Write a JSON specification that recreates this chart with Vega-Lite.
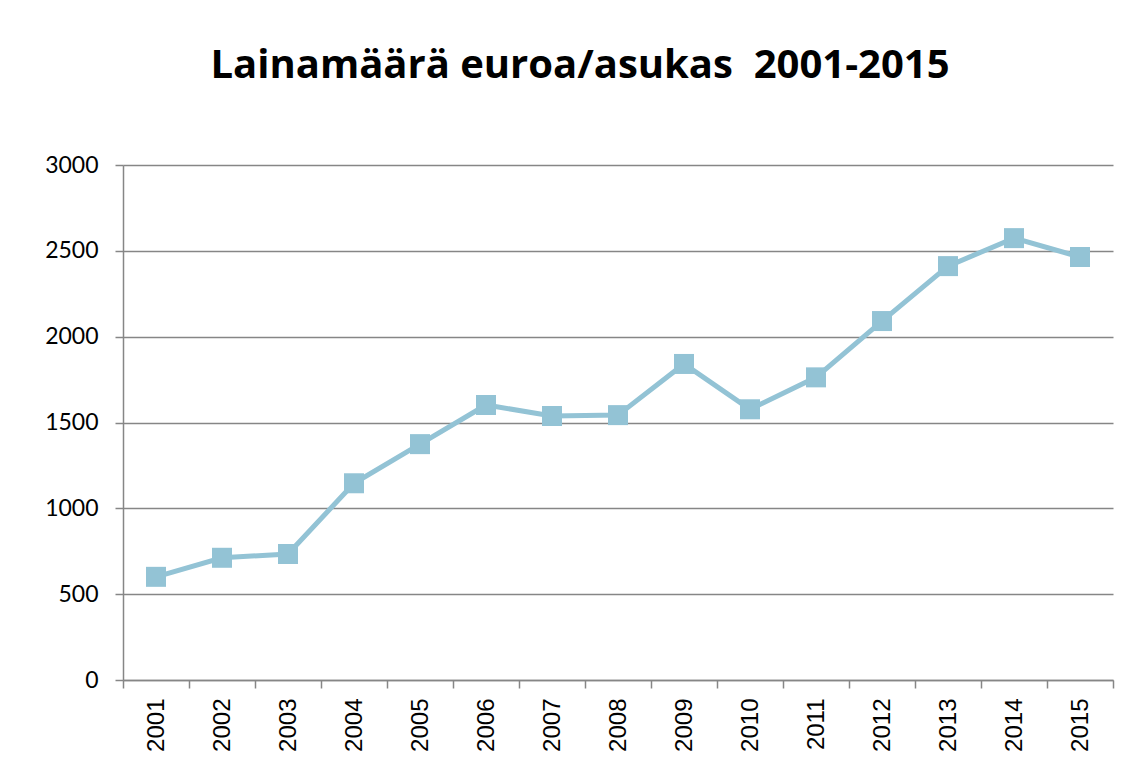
{
  "$schema": "https://vega.github.io/schema/vega-lite/v6.json",
  "autosize": {"type": "none"},
  "width": 990,
  "height": 515,
  "padding": {"left": 123, "top": 165, "right": 18, "bottom": 100},
  "background": "white",
  "title": {
    "text": "Lainamäärä euroa/asukas \u00a02001-2015",
    "font": "Open Sans",
    "fontSize": 40,
    "fontWeight": "bold",
    "color": "#000000",
    "anchor": "middle",
    "dx": -38,
    "offset": 68
  },
  "data": {
    "values": [
      {"vuosi": "2001", "arvo": 601},
      {"vuosi": "2002", "arvo": 712},
      {"vuosi": "2003", "arvo": 734},
      {"vuosi": "2004", "arvo": 1146},
      {"vuosi": "2005", "arvo": 1374},
      {"vuosi": "2006", "arvo": 1602},
      {"vuosi": "2007", "arvo": 1538},
      {"vuosi": "2008", "arvo": 1543},
      {"vuosi": "2009", "arvo": 1841},
      {"vuosi": "2010", "arvo": 1577},
      {"vuosi": "2011", "arvo": 1763},
      {"vuosi": "2012", "arvo": 2091},
      {"vuosi": "2013", "arvo": 2411},
      {"vuosi": "2014", "arvo": 2574},
      {"vuosi": "2015", "arvo": 2464}
    ]
  },
  "encoding": {
    "x": {
      "field": "vuosi",
      "type": "ordinal",
      "scale": {"paddingInner": 0, "paddingOuter": 0},
      "axis": {
        "title": null,
        "labelAngle": -90,
        "labelAlign": "right",
        "labelBaseline": "middle",
        "labelFont": "Liberation Sans",
        "labelFontSize": 24,
        "labelColor": "#000000",
        "labelPadding": 10,
        "labelLimit": 300,
        "tickBand": "extent",
        "tickSize": 8,
        "tickColor": "#868686",
        "tickWidth": 1.5,
        "domainColor": "#868686",
        "domainWidth": 1.5,
        "grid": false
      }
    },
    "y": {
      "field": "arvo",
      "type": "quantitative",
      "scale": {"domain": [0, 3000], "nice": false},
      "axis": {
        "title": null,
        "values": [0, 500, 1000, 1500, 2000, 2500, 3000],
        "format": "d",
        "labelFont": "Lato",
        "labelFontSize": 23,
        "labelColor": "#000000",
        "labelPadding": 17,
        "tickSize": 8,
        "tickColor": "#868686",
        "tickWidth": 1.5,
        "domainColor": "#868686",
        "domainWidth": 1.5,
        "grid": true,
        "gridColor": "#868686",
        "gridWidth": 1.5
      }
    }
  },
  "layer": [
    {"mark": {"type": "line", "color": "#93C3D5", "strokeWidth": 5}},
    {"mark": {"type": "square", "color": "#93C3D5", "opacity": 1, "filled": true, "size": 400}}
  ],
  "config": {"view": {"stroke": null}}
}
